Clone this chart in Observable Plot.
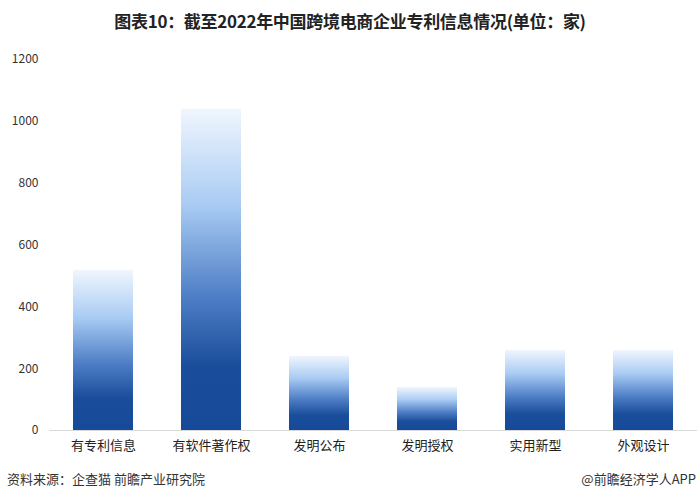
<!DOCTYPE html>
<html>
<head>
<meta charset="utf-8">
<script src="https://cdn.jsdelivr.net/npm/d3@7"></script>
<script src="https://cdn.jsdelivr.net/npm/@observablehq/plot@0.6"></script>
<style>
  html, body { margin: 0; padding: 0; background: #fff; width: 700px; height: 501px; overflow: hidden; }
  body { font-family: "Noto Sans CJK SC", "Noto Sans", sans-serif; }
  #title { height: 40px; line-height: 42px; text-align: center; font-size: 17px; font-weight: bold; color: #222; letter-spacing: -0.3px; }
  #chart { height: 420px; }
  #footer { position: relative; height: 41px; font-size: 13px; color: #333; }
  #footer .l { position: absolute; left: 7px; top: 9px; }
  #footer .r { position: absolute; right: 4px; top: 9px; }
</style>
</head>
<body>
<div id="title">图表10：截至2022年中国跨境电商企业专利信息情况(单位：家)</div>
<div id="chart"></div>
<div id="footer"><span class="l">资料来源：企查猫 前瞻产业研究院</span><span class="r">@前瞻经济学人APP</span></div>
<script>
const categories = ["有专利信息", "有软件著作权", "发明公布", "发明授权", "实用新型", "外观设计"];
const values = [518, 1039, 240, 139, 259, 259];
const yTicks = [0, 200, 400, 600, 800, 1000, 1200];

const data = categories.map((c, i) => ({category: c, value: values[i]}));

const chart = Plot.plot({
  width: 700,
  height: 420,
  marginTop: 19,
  marginBottom: 30,
  marginLeft: 49,
  marginRight: 3,
  style: {fontFamily: "'Noto Sans CJK SC', sans-serif", background: "transparent"},
  x: {domain: categories, paddingInner: 0.444, paddingOuter: 0.222, label: null},
  y: {domain: [0, 1200], label: null},
  marks: [
    Plot.barY(data, {x: "category", y: "value", fill: "url(#barGrad)"}),
    Plot.ruleY([0], {stroke: "#d9d9d9", strokeWidth: 1}),
    Plot.axisY({ticks: yTicks, tickFormat: d => String(d), tickSize: 0, tickPadding: 11, fontSize: 12, fill: "#333", label: null}),
    Plot.axisX({tickSize: 0, tickPadding: 10, fontSize: 13, fill: "#222", label: null})
  ]
});

const svg = d3.select(chart);
const defs = svg.insert("defs", ":first-child");
const grad = defs.append("linearGradient")
  .attr("id", "barGrad").attr("x1", 0).attr("y1", 0).attr("x2", 0).attr("y2", 1);
[[0, "#f0f6fe"], [0.3, "#a9cbf3"], [0.58, "#4f7fc6"], [0.8, "#1a4d9b"], [1, "#164a99"]]
  .forEach(([o, c]) => grad.append("stop").attr("offset", o).attr("stop-color", c));

document.getElementById("chart").appendChild(chart);
</script>
</body>
</html>
